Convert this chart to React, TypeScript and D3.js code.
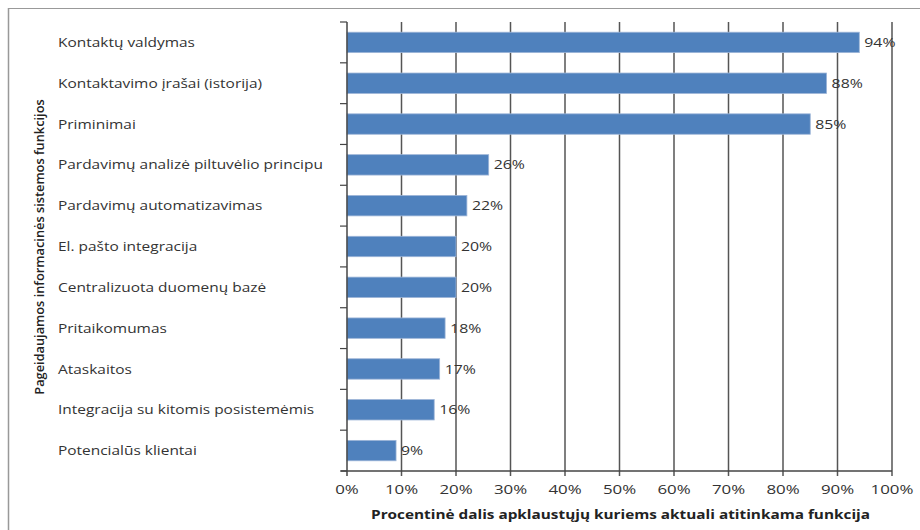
import React from "react";
import * as d3 from "d3";

const categories = [
  "Kontaktų valdymas",
  "Kontaktavimo įrašai (istorija)",
  "Priminimai",
  "Pardavimų analizė piltuvėlio principu",
  "Pardavimų automatizavimas",
  "El. pašto integracija",
  "Centralizuota duomenų bazė",
  "Pritaikomumas",
  "Ataskaitos",
  "Integracija su kitomis posistemėmis",
  "Potencialūs klientai",
];
const values = [94, 88, 85, 26, 22, 20, 20, 18, 17, 16, 9];
const xTicks = [0, 10, 20, 30, 40, 50, 60, 70, 80, 90, 100];
const xTitle = "Procentinė dalis apklaustųjų kuriems aktuali atitinkama funkcija";
const yTitle = "Pageidaujamos informacinės sistemos funkcijos";

function SText({ x, y, sx, children, anchor, ...rest }: any) {
  return (
    <text transform={`translate(${x},${y}) scale(${sx},1)`} textAnchor={anchor || "start"} dy="0.35em" {...rest}>
      {children}
    </text>
  );
}

export default function App() {
  const W = 920, H = 530;
  const left = 347, right = 892, top = 22, bottom = 471;
  const x = d3.scaleLinear().domain([0, 100]).range([left, right]);
  const y = d3.scaleBand().domain(categories).range([top, bottom]).paddingInner(0.5).paddingOuter(0.25);
  const band = (bottom - top) / categories.length;
  const font = "'Open Sans', 'DejaVu Sans', sans-serif";
  const fs = 13.2;
  const sx = 1.17;
  return (
    <svg width={W} height={H} style={{ position: "absolute", left: 0, top: 0 }} fontFamily={font}>
      <rect x={0} y={0} width={W} height={H} fill="#fff" />
      <line x1={8} y1={8.5} x2={W} y2={8.5} stroke="#999" strokeWidth={1} />
      <line x1={8.5} y1={8} x2={8.5} y2={H} stroke="#999" strokeWidth={1.5} />
      {xTicks.slice(1).map((t) => (
        <line key={t} x1={x(t)} x2={x(t)} y1={top} y2={bottom + 5} stroke="#555" strokeWidth={1.5} />
      ))}
      {categories.map((c, i) => (
        <rect key={c} x={x(0)} y={y(c)!} width={x(values[i]) - x(0)} height={y.bandwidth()}
          fill="#4F81BD" stroke="#9db5d8" strokeWidth={0.8} />
      ))}
      <line x1={left} x2={left} y1={top} y2={bottom + 5} stroke="#444" strokeWidth={1.5} />
      <line x1={left - 6} x2={right} y1={bottom} y2={bottom} stroke="#444" strokeWidth={1.5} />
      {d3.range(categories.length + 1).map((i) => (
        <line key={i} x1={left - 7} x2={left} y1={top + i * band} y2={top + i * band} stroke="#444" strokeWidth={1.2} />
      ))}
      {categories.map((c) => (
        <SText key={c} x={58} y={y(c)! + y.bandwidth() / 2} sx={sx} fontSize={fs} fill="#333">{c}</SText>
      ))}
      {categories.map((c, i) => (
        <SText key={c} x={x(values[i]) + 5} y={y(c)! + y.bandwidth() / 2} sx={1.2} fontSize={fs} fill="#333">{values[i]}%</SText>
      ))}
      {xTicks.map((t) => (
        <SText key={t} x={x(t)} y={489} sx={1.25} anchor="middle" fontSize={13.5} fill="#333">{t}%</SText>
      ))}
      <SText x={(left + right) / 2 + 1} y={514} sx={1.18} anchor="middle" fontSize={13} fontWeight="bold" fill="#222">{xTitle}</SText>
      <text transform={`translate(40, 247) rotate(-90)`} textAnchor="middle" dy="0.35em" fontSize={12.8} fill="#222"
        style={{ fontWeight: 600 }}>{yTitle}</text>
    </svg>
  );
}
